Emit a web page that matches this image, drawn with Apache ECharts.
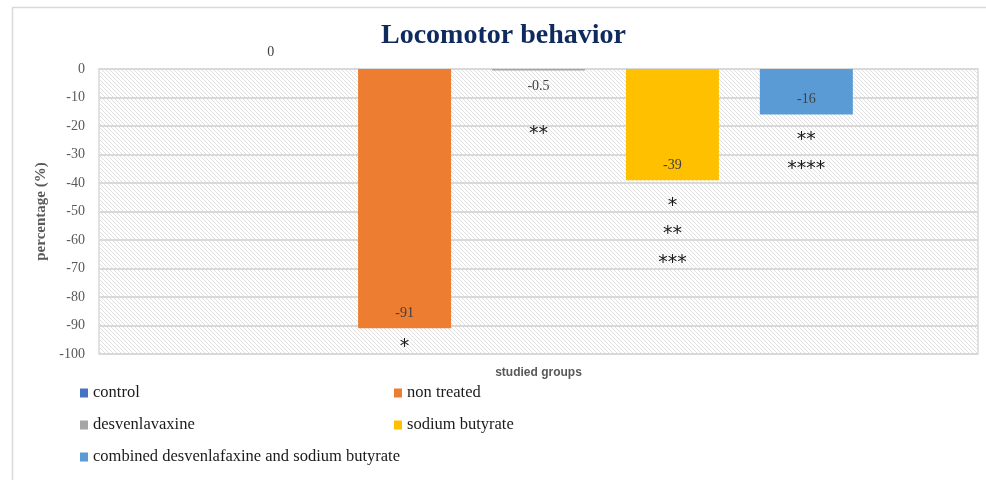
<!DOCTYPE html>
<html>
<head>
<meta charset="utf-8">
<script src="https://cdn.jsdelivr.net/npm/echarts@6/dist/echarts.min.js"></script>
<style>
  html, body { margin: 0; padding: 0; background: #fff; }
  #main { width: 986px; height: 480px; }
</style>
</head>
<body>
<div id="main"></div>
<script>
// data
var groupNames = ["control", "non treated", "desvenlavaxine", "sodium butyrate", "combined desvenlafaxine and sodium butyrate"];
var groupValues = [0, -91, -0.5, -39, -16];
var groupColors = ["#4472c4", "#ed7d31", "#a5a5a5", "#ffc000", "#5b9bd5"];
// significance marks under each bar: [text, y value]
var starMarks = [
  [],
  [["*", -97.5]],
  [["**", -23]],
  [["*", -48], ["**", -58], ["***", -68]],
  [["**", -25], ["****", -35]]
];
var yTicks = { min: -100, max: 0, step: 10 };

// hatch pattern for plot area
function makeHatch() {
  var c = document.createElement("canvas");
  c.width = 4; c.height = 4;
  var g = c.getContext("2d");
  g.fillStyle = "#ffffff";
  g.fillRect(0, 0, 4, 4);
  g.strokeStyle = "#e0e0e0";
  g.lineWidth = 1;
  g.beginPath();
  g.moveTo(-1, -1); g.lineTo(5, 5);
  g.moveTo(-1, 3); g.lineTo(1, 5);
  g.moveTo(3, -1); g.lineTo(5, 1);
  g.stroke();
  return c;
}

var myChart = echarts.init(document.getElementById("main"));

var series = groupNames.map(function (name, i) {
  var lblPos = "insideBottom";
  var dist = 8;
  if (groupValues[i] === 0) { lblPos = "top"; dist = 10; }
  else if (groupValues[i] > -2) { lblPos = "bottom"; dist = 9; }
  return {
    name: name,
    type: "bar",
    barWidth: 93,
    barGap: "44%",
    itemStyle: { color: groupColors[i] },
    label: {
      show: true,
      position: lblPos,
      distance: dist,
      fontFamily: "Liberation Serif",
      fontSize: 14,
      color: "#404040"
    },
    data: [groupValues[i]],
    markPoint: {
      symbol: "rect",
      symbolSize: 1,
      itemStyle: { color: "rgba(0,0,0,0)" },
      label: {
        show: true,
        position: "inside",
        fontFamily: "DejaVu Sans",
        fontSize: 19,
        color: "#1a1a1a",
        formatter: function (p) { return p.name; }
      },
      data: starMarks[i].map(function (m) {
        return { name: m[0], coord: ["studied groups", m[1]] };
      })
    }
  };
});

var legendText = { fontFamily: "Liberation Serif", fontSize: 16.5, lineHeight: 20, color: "#1a1a1a" };

var option = {
  animation: false,
  title: {
    text: "Locomotor behavior",
    left: 376,
    top: 17,
    textStyle: {
      fontFamily: "Liberation Serif",
      fontWeight: "bold",
      fontSize: 28,
      color: "#0f2a5c"
    }
  },
  legend: [
    {
      data: [groupNames[0], groupNames[2], groupNames[4]],
      orient: "vertical",
      left: 80,
      top: 383,
      padding: 0,
      itemWidth: 8,
      itemHeight: 9,
      itemGap: 12,
      icon: "rect",
      textStyle: legendText
    },
    {
      data: [groupNames[1], groupNames[3]],
      orient: "vertical",
      left: 394,
      top: 383,
      padding: 0,
      itemWidth: 8,
      itemHeight: 9,
      itemGap: 12,
      icon: "rect",
      textStyle: legendText
    }
  ],
  grid: {
    left: 99,
    right: 8,
    top: 69,
    bottom: 126,
    show: true,
    borderColor: "#d9d9d9",
    borderWidth: 1.5,
    backgroundColor: { image: makeHatch(), repeat: "repeat" }
  },
  xAxis: {
    type: "category",
    data: ["studied groups"],
    name: "studied groups",
    nameLocation: "middle",
    nameGap: 13,
    nameTextStyle: { fontFamily: "Liberation Sans", fontWeight: "bold", fontSize: 12, color: "#595959" },
    axisLine: { show: true, lineStyle: { color: "#d9d9d9", width: 1.5 } },
    axisTick: { show: false },
    axisLabel: { show: false }
  },
  yAxis: {
    type: "value",
    min: yTicks.min,
    max: yTicks.max,
    interval: yTicks.step,
    name: "percentage (%)",
    nameLocation: "middle",
    nameGap: 46,
    nameTextStyle: { fontFamily: "Liberation Serif", fontWeight: "bold", fontSize: 15, color: "#595959" },
    axisLine: { show: false },
    axisTick: { show: false },
    axisLabel: { fontFamily: "Liberation Serif", fontSize: 14, color: "#595959", margin: 14 },
    splitLine: { lineStyle: { color: "#d9d9d9", width: 2 } }
  },
  graphic: [
    {
      type: "rect",
      left: 10,
      top: 5,
      shape: { width: 990, height: 490 },
      style: { fill: null, stroke: "#d9d9d9", lineWidth: 1.5 },
      silent: true
    }
  ],
  series: series
};

myChart.setOption(option);
</script>
</body>
</html>
